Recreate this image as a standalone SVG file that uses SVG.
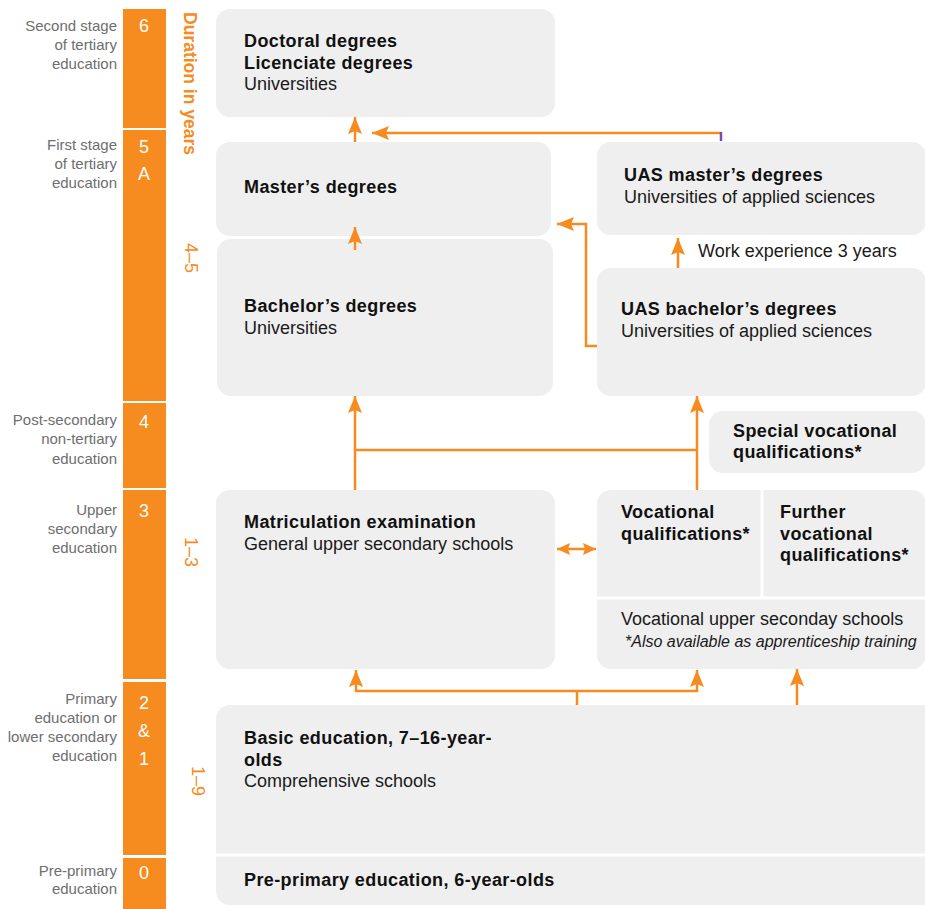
<svg xmlns="http://www.w3.org/2000/svg" width="925" height="909" viewBox="0 0 925 909">
<style>
.box{fill:#efefef}
.b{font-family:"Liberation Sans",Arial,sans-serif;font-weight:bold;font-size:18px;fill:#111;letter-spacing:0.4px}
.r{font-family:"Liberation Sans",Arial,sans-serif;font-size:18px;fill:#1a1a1a}
.i{font-family:"Liberation Sans",Arial,sans-serif;font-style:italic;font-size:16px;fill:#1a1a1a}
.lab{font-family:"Liberation Sans",Arial,sans-serif;font-size:15px;fill:#6e6e6e;text-anchor:end}
.num{font-family:"Liberation Sans",Arial,sans-serif;font-size:18px;fill:#fff;text-anchor:middle}
.dur{font-family:"Liberation Sans",Arial,sans-serif;font-size:18px;fill:#f68b1f}
.seg{fill:#f68b1f}
.c{fill:none;stroke:#f68b1f;stroke-width:2.5}
.div{stroke:#fff;stroke-width:3}
</style>
<defs>
<marker id="ah" markerUnits="userSpaceOnUse" markerWidth="18" markerHeight="14" refX="17" refY="7" orient="auto">
<path d="M0,0 L17,7 L0,14 L3,7 z" fill="#f68b1f"/>
</marker>
<marker id="ah2" markerUnits="userSpaceOnUse" markerWidth="14" markerHeight="12" refX="13" refY="6" orient="auto-start-reverse">
<path d="M0,0 L13,6 L0,12 L2,6 z" fill="#f68b1f"/>
</marker>
</defs>

<g id="scale">
<rect class="seg" x="123" y="9" width="43" height="119"/>
<rect class="seg" x="123" y="130" width="43" height="271"/>
<rect class="seg" x="123" y="403" width="43" height="85"/>
<rect class="seg" x="123" y="490" width="43" height="189"/>
<rect class="seg" x="123" y="682" width="43" height="173"/>
<rect class="seg" x="123" y="858" width="43" height="51"/>
<text class="num" x="144" y="32">6</text>
<text class="num" x="144" y="153">5</text>
<text class="num" x="144" y="180">A</text>
<text class="num" x="144" y="428">4</text>
<text class="num" x="144" y="517">3</text>
<text class="num" x="144" y="709">2</text>
<text class="num" x="144" y="737">&amp;</text>
<text class="num" x="144" y="765">1</text>
<text class="num" x="144" y="879">0</text>
</g>

<g id="levels">
<text class="lab" x="117" y="31">Second stage</text>
<text class="lab" x="117" y="50">of tertiary</text>
<text class="lab" x="117" y="69">education</text>
<text class="lab" x="117" y="150">First stage</text>
<text class="lab" x="117" y="169">of tertiary</text>
<text class="lab" x="117" y="188">education</text>
<text class="lab" x="117" y="425">Post-secondary</text>
<text class="lab" x="117" y="444">non-tertiary</text>
<text class="lab" x="117" y="464">education</text>
<text class="lab" x="117" y="515">Upper</text>
<text class="lab" x="117" y="534">secondary</text>
<text class="lab" x="117" y="553">education</text>
<text class="lab" x="117" y="704">Primary</text>
<text class="lab" x="117" y="723">education or</text>
<text class="lab" x="117" y="742">lower secondary</text>
<text class="lab" x="117" y="761">education</text>
<text class="lab" x="117" y="876">Pre-primary</text>
<text class="lab" x="117" y="894">education</text>
</g>

<g id="duration">
<text class="dur" font-weight="bold" transform="translate(184,12) rotate(90)" textLength="143" lengthAdjust="spacingAndGlyphs">Duration in years</text>
<text class="dur" transform="translate(185,243) rotate(90)">4–5</text>
<text class="dur" transform="translate(185,537) rotate(90)">1–3</text>
<text class="dur" transform="translate(192,766) rotate(90)">1–9</text>
</g>

<g id="doctoral">
<rect class="box" x="216" y="9" width="339" height="108" rx="14"/>
<text class="b" x="244" y="47">Doctoral degrees</text>
<text class="b" x="244" y="69">Licenciate degrees</text>
<text class="r" x="244" y="90">Universities</text>
</g>

<g id="masters">
<rect class="box" x="216" y="142" width="335" height="94" rx="14"/>
<text class="b" x="244" y="193">Master’s degrees</text>
</g>

<g id="bachelors">
<rect class="box" x="217" y="239" width="336" height="157" rx="14"/>
<text class="b" x="244" y="312">Bachelor’s degrees</text>
<text class="r" x="244" y="334">Universities</text>
</g>

<g id="uas-masters">
<rect class="box" x="597" y="142" width="329" height="93" rx="14"/>
<text class="b" x="624" y="181">UAS master’s degrees</text>
<text class="r" x="624" y="203">Universities of applied sciences</text>
</g>

<g id="work-experience">
<text class="r" x="698" y="257">Work experience 3 years</text>
</g>

<g id="uas-bachelors">
<rect class="box" x="597" y="268" width="329" height="128" rx="14"/>
<text class="b" x="621" y="315">UAS bachelor’s degrees</text>
<text class="r" x="621" y="337">Universities of applied sciences</text>
</g>

<g id="special-vocational">
<rect class="box" x="709" y="411" width="217" height="62" rx="14"/>
<text class="b" x="733" y="437">Special vocational</text>
<text class="b" x="733" y="458">qualifications*</text>
</g>

<g id="matriculation">
<rect class="box" x="216" y="490" width="339" height="179" rx="14"/>
<text class="b" x="244" y="528">Matriculation examination</text>
<text class="r" x="244" y="550">General upper secondary schools</text>
</g>

<g id="vocational">
<rect class="box" x="597" y="490" width="329" height="179" rx="14"/>
<line class="div" x1="762" y1="490" x2="762" y2="598"/>
<line class="div" x1="597" y1="598" x2="926" y2="598"/>
<text class="b" x="621" y="518">Vocational</text>
<text class="b" x="621" y="540">qualifications*</text>
<text class="b" x="780" y="518">Further</text>
<text class="b" x="780" y="540">vocational</text>
<text class="b" x="780" y="561">qualifications*</text>
<text class="r" x="621" y="625">Vocational upper seconday schools</text>
<text class="i" x="625" y="647">*Also available as apprenticeship training</text>
</g>

<g id="basic">
<rect class="box" x="216" y="705" width="720" height="200" rx="14"/>
<line class="div" x1="216" y1="855" x2="926" y2="855"/>
<text class="b" x="244" y="744">Basic education, 7–16-year-</text>
<text class="b" x="244" y="766">olds</text>
<text class="r" x="244" y="787">Comprehensive schools</text>
<text class="b" x="244" y="886">Pre-primary education, 6-year-olds</text>
</g>

<g id="connectors">
<line class="c" x1="355" y1="142" x2="355" y2="117" marker-end="url(#ah)"/>
<polyline class="c" points="721,133 372,133" marker-end="url(#ah)"/>
<line x1="721" y1="132" x2="721" y2="141" stroke="#7b4fa8" stroke-width="2.5"/>
<line class="c" x1="355" y1="250" x2="355" y2="227" marker-end="url(#ah)"/>
<polyline class="c" points="597,346 586,346 586,224 557,224" marker-end="url(#ah)"/>
<line class="c" x1="678" y1="268" x2="678" y2="238" marker-end="url(#ah)"/>
<line class="c" x1="355" y1="490" x2="355" y2="396" marker-end="url(#ah)"/>
<line class="c" x1="697" y1="490" x2="697" y2="396" marker-end="url(#ah)"/>
<line class="c" x1="355" y1="450" x2="697" y2="450"/>
<line class="c" x1="557" y1="549" x2="596" y2="549" marker-start="url(#ah2)" marker-end="url(#ah2)"/>
<polyline class="c" points="577,691 356,691 356,670" marker-end="url(#ah)"/>
<polyline class="c" points="577,691 697,691 697,670" marker-end="url(#ah)"/>
<line class="c" x1="577" y1="691" x2="577" y2="705"/>
<line class="c" x1="797" y1="705" x2="797" y2="669" marker-end="url(#ah)"/>
</g>
</svg>
